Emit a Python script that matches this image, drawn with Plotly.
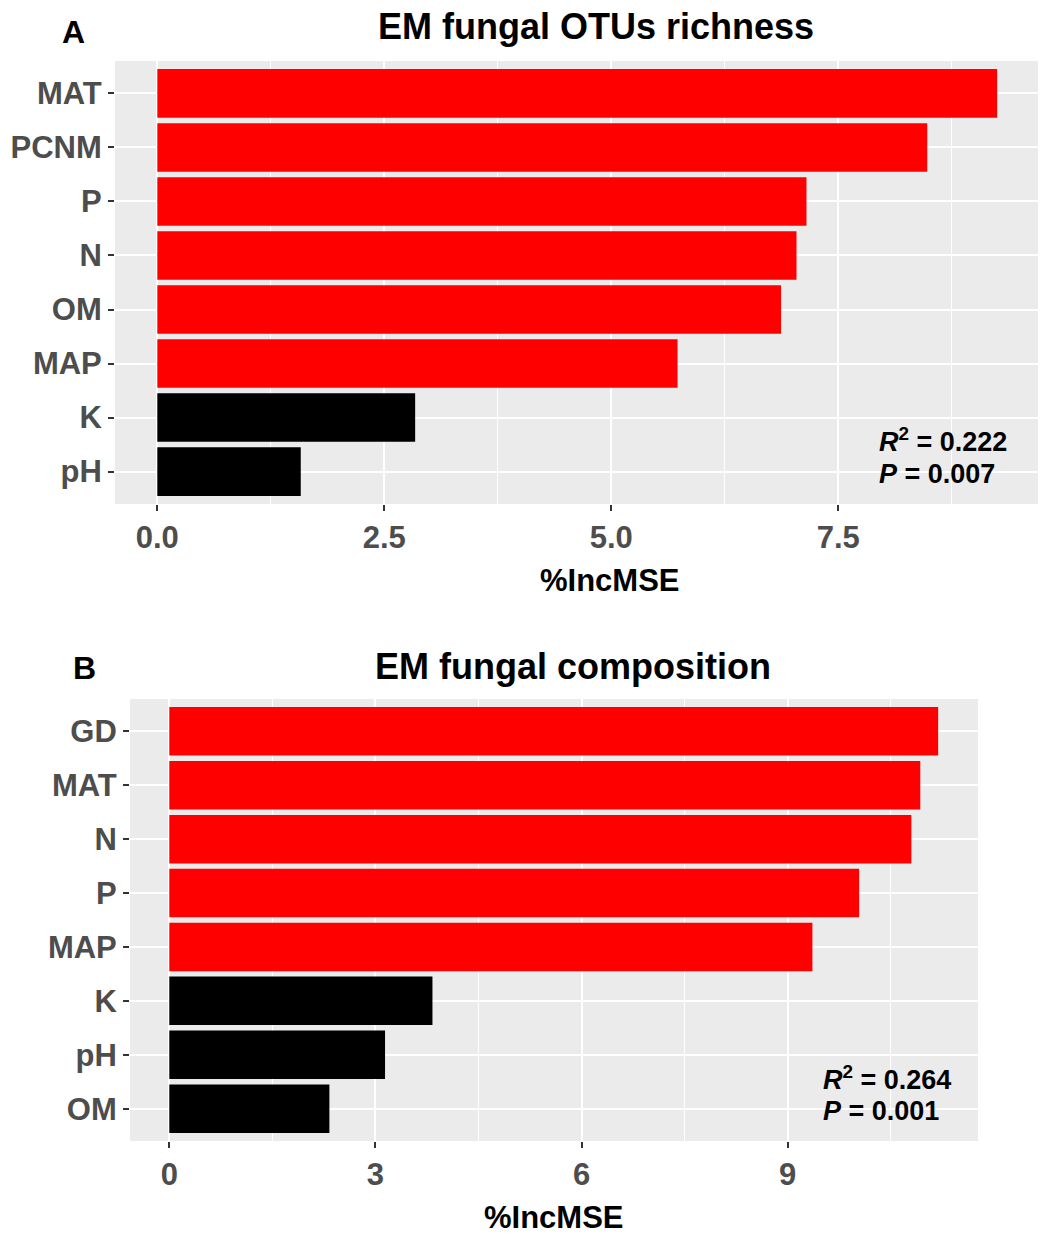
import plotly.graph_objects as go

# Random-forest variable importance (%IncMSE) for EM fungi
rich_vars = ["MAT", "PCNM", "P", "N", "OM", "MAP", "K", "pH"]
rich_vals = [9.25, 8.48, 7.15, 7.04, 6.87, 5.73, 2.84, 1.58]
rich_sig = [True, True, True, True, True, True, False, False]

comp_vars = ["GD", "MAT", "N", "P", "MAP", "K", "pH", "OM"]
comp_vals = [11.19, 10.93, 10.80, 10.04, 9.36, 3.83, 3.14, 2.33]
comp_sig = [True, True, True, True, True, False, False, False]

W, H = 1044, 1236
FONT = "Liberation Sans, Arial, sans-serif"
RED, BLACK = "#FF0000", "#000000"
PANEL_BG = "#EBEBEB"
TICK_GREY = "#4D4D4D"


def px(x):
    return x / W


def py(y):
    return 1 - y / H


fig = go.Figure()

fig.add_trace(go.Bar(
    x=rich_vals, y=rich_vars, orientation="h",
    marker=dict(color=[RED if s else BLACK for s in rich_sig], line=dict(width=0)),
    xaxis="x", yaxis="y", showlegend=False,
))
fig.add_trace(go.Bar(
    x=comp_vals, y=comp_vars, orientation="h",
    marker=dict(color=[RED if s else BLACK for s in comp_sig], line=dict(width=0)),
    xaxis="x2", yaxis="y2", showlegend=False,
))

common_x = dict(
    showgrid=True, gridcolor="white", gridwidth=2,
    zeroline=False, ticks="outside", ticklen=6, tickwidth=2, tickcolor="#333333",
    tickfont=dict(family=FONT, size=31, color=TICK_GREY, weight="bold"),
    showline=False,
)
common_y = dict(
    type="category", showgrid=True, gridcolor="white", gridwidth=2,
    zeroline=False, ticks="outside", ticklen=6, tickwidth=2, tickcolor="#333333",
    tickfont=dict(family=FONT, size=31, color=TICK_GREY, weight="bold"),
    showline=False, autorange=False,
)

fig.update_layout(
    width=W, height=H,
    margin=dict(l=0, r=0, t=0, b=0),
    paper_bgcolor="white",
    plot_bgcolor=PANEL_BG,
    bargap=0.1,
    font=dict(family=FONT),
    xaxis=dict(
        **common_x,
        domain=[px(115), px(1038)], anchor="y",
        range=[-0.466, 9.70],
        tickvals=[0, 2.5, 5, 7.5], ticktext=["0.0", "2.5", "5.0", "7.5"],
        minor=dict(tickvals=[1.25, 3.75, 6.25, 8.75], showgrid=True,
                   gridcolor="white", gridwidth=1, ticks=""),
    ),
    yaxis=dict(
        **common_y,
        domain=[py(504), py(61)], anchor="x",
        categoryorder="array", categoryarray=rich_vars[::-1],
        range=[-0.6, len(rich_vars) - 0.4],
    ),
    xaxis2=dict(
        **common_x,
        domain=[px(130), px(978)], anchor="y2",
        range=[-0.572, 11.77],
        tickvals=[0, 3, 6, 9], ticktext=["0", "3", "6", "9"],
        minor=dict(tickvals=[1.5, 4.5, 7.5, 10.5], showgrid=True,
                   gridcolor="white", gridwidth=1, ticks=""),
    ),
    yaxis2=dict(
        **common_y,
        domain=[py(1141), py(699)], anchor="x2",
        categoryorder="array", categoryarray=comp_vars[::-1],
        range=[-0.6, len(comp_vars) - 0.4],
    ),
)


def label(text, x, y, size, color="black", xanchor="center"):
    fig.add_annotation(
        text=text, x=px(x), y=py(y), xref="paper", yref="paper",
        xanchor=xanchor, yanchor="middle", showarrow=False,
        font=dict(family=FONT, size=size, color=color),
    )


# Panel letters and titles
label("<b>A</b>", 73, 32, 32)
label("<b>EM fungal OTUs richness</b>", 596, 27, 36)
label("<b>B</b>", 85, 668, 32)
label("<b>EM fungal composition</b>", 573, 667, 36)

# Axis titles
label("<b>%IncMSE</b>", 610, 580, 31)
label("<b>%IncMSE</b>", 554, 1217, 31)

# Model fit statistics
label("<b><i>R</i><sup>2</sup> = 0.222</b>", 877, 440, 27, xanchor="left")
label("<b><i>P</i> = 0.007</b>", 877, 474, 27, xanchor="left")
label("<b><i>R</i><sup>2</sup> = 0.264</b>", 821, 1078, 27, xanchor="left")
label("<b><i>P</i> = 0.001</b>", 821, 1111, 27, xanchor="left")

fig.write_html("out.html")
